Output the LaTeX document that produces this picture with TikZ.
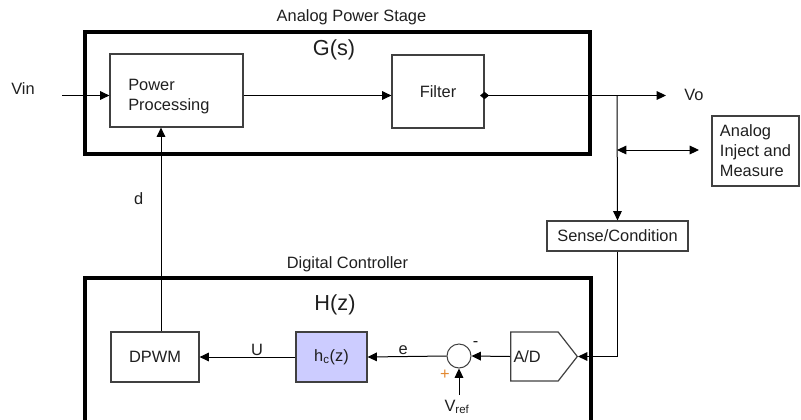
\documentclass[tikz,border=0pt]{standalone}
\usepackage{fontspec}
\setmainfont{Liberation Sans}
\usepackage{xcolor}
\usetikzlibrary{arrows.meta, positioning, shapes.symbols, shapes.geometric}

\definecolor{hcfill}{RGB}{204,204,255}
\definecolor{plusorange}{RGB}{226,136,48}

\begin{document}
\begin{tikzpicture}[
    x=0.75pt, y=-0.75pt,
    every node/.style={font=\fontsize{12.3}{15}\selectfont, text=black!88},
    blk/.style={draw=black!75, line width=0.9pt, inner sep=2pt, align=center},
    stage/.style={draw=black, line width=3pt},
    title/.style={font=\fontsize{16.3}{18}\selectfont},
    arrow/.style={-{Triangle[length=7pt, width=6.5pt]}, line width=0.75pt},
    dblarrow/.style={{Triangle[length=7pt, width=6.5pt]}-{Triangle[length=7pt, width=6.5pt]}, line width=0.75pt},
    tag/.style={inner sep=1pt},
]
\useasboundingbox (0,0) rectangle (801,419);

% analog power stage
\node[stage, minimum width=378.75pt, minimum height=91.5pt] (aps) at (337.5,93) {};
\node (apslbl) at (351.5,17) {Analog Power Stage};
\node[title] (gs) at (334,50) {G(s)};
\node[blk, minimum width=99.75pt, minimum height=54.75pt] (pp) at (176.5,90.5) {};
\node[align=left, anchor=west, inner sep=0pt] (pptxt) at (128,97) {Power\\Processing};
\node[blk, minimum width=69pt, minimum height=54.75pt] (filter) at (438,91.5) {Filter};
\node (vin) at (23,89) {Vin};
\node (vo) at (694,95) {Vo};
\node[blk, align=left, minimum width=65.25pt, minimum height=52.5pt] (inj) at (755.5,151) {Analog\\Inject and\\Measure};
\node[blk, minimum width=105.75pt, minimum height=22.5pt] (sense) at (617.5,236) {Sense/Condition};

% digital controller
\draw[stage] (85,278) rectangle (591,430);
\node (dclbl) at (347.5,264) {Digital Controller};
\node[title] (hz) at (335,305) {H(z)};
\node[blk, minimum width=66pt, minimum height=37.5pt] (dpwm) at (155,357) {DPWM};
\node[blk, fill=hcfill, minimum width=53.25pt, minimum height=37.5pt] (hc) at (331.5,357) {h\textsubscript{c}(z)};
\node[circle, draw=black!75, line width=0.75pt, minimum size=18pt, inner sep=0pt,
      label={[text=plusorange, inner sep=2pt]240:+}, label={[inner sep=2pt]30:-}] (sum) at (459,356) {};
\node[blk, signal, signal to=east, signal pointer angle=104, minimum width=48.75pt, minimum height=36.75pt] (ad) at (534.5,356.5) {A/D\hspace{11pt}};
\node (vref) at (457,407) {V\textsubscript{ref}};

% free ends
\coordinate (vinend) at (62,95.5);
\coordinate (voend) at (666,95.5);
\coordinate (tap) at (617,95.5);
\coordinate (tap2) at (617,150);
\coordinate (injend) at (699,150);

% forward path
\draw[arrow] (vinend) -- (vinend -| pp.west);
\draw[arrow] (vinend -| pp.east) -- (vinend -| filter.west);
\draw[{Diamond[length=6.75pt, width=5.5pt]}-{Triangle[length=7pt, width=6.5pt]}, line width=0.75pt]
    ([xshift=-3.4pt]vinend -| filter.east) -- (voend);
\draw[arrow] (tap) -- (sense.north);
\draw[dblarrow] (tap2) -- (injend);

% feedback path
\draw[arrow] (sense.south) |- (ad.east);
\draw[arrow] (ad.west) -- (sum.east);
\draw[arrow] (sum.south |- vref.north) -- (sum.south);
\draw[arrow] (sum.west) -- node[above, tag, pos=0.55] {e} (hc.east);
\draw[arrow] (hc.west) -- node[above, tag, pos=0.4] {U} (dpwm.east);
\draw[arrow] ([xshift=4.5pt]dpwm.north) -- node[left, tag, pos=0.65, xshift=-12pt] {d} ([xshift=4.5pt]dpwm.north |- pp.south);

\end{tikzpicture}
\end{document}
